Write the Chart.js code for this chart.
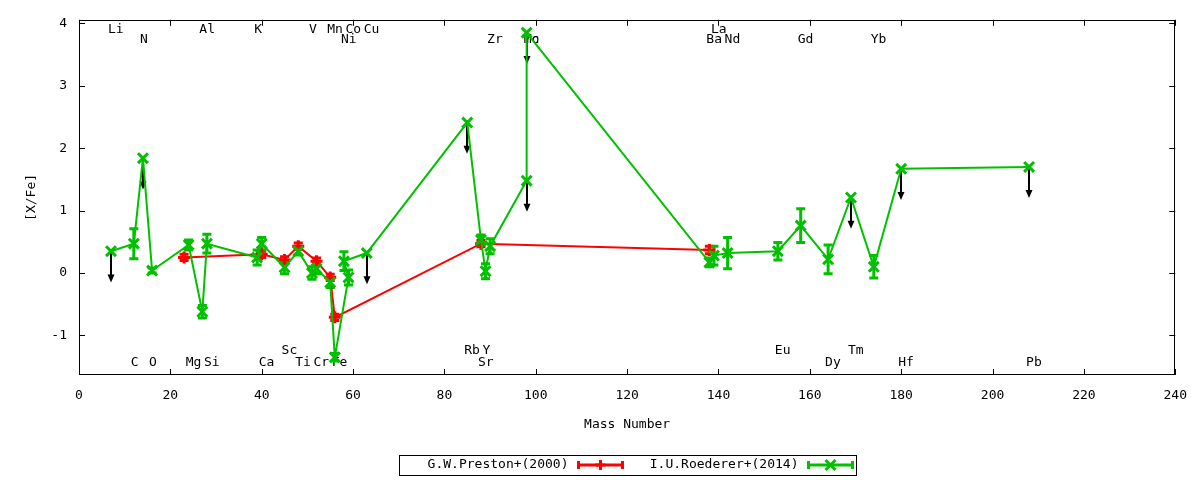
<!DOCTYPE html>
<html>
<head>
<meta charset="utf-8">
<script src="https://cdn.jsdelivr.net/npm/chart.js@4.4.0/dist/chart.umd.min.js"></script>
<style>
  body { margin: 0; background: #fff; }
  #wrap { width: 1200px; height: 480px; }
</style>
</head>
<body>
<div id="wrap"><canvas id="chart"></canvas></div>
<script>
// ---- data ----
var elements     = ["Li","C","N","O","Mg","Al","Si","K","Ca","Sc","Ti","V","Cr","Mn","Fe","Co","Ni","Cu","Rb","Sr","Y","Zr","Mo","Tc","Ba","La","Nd","Eu","Gd","Dy","Tm","Yb","Hf","Pb"];
var massNumbers  = [7,12,14,16,24,27,28,39,40,45,48,51,52,55,56,59,58,63,85,88,89,90,98,98,138,139,142,153,158,164,169,174,180,208];
var labelRow     = [0,3,1,3,3,0,3,0,3,2,3,0,3,0,3,0,1,0,2,3,2,1,1,1,1,0,1,2,1,3,2,1,3,3];
var roedererXFe  = [0.35,0.47,1.84,0.04,0.45,-0.62,0.47,0.25,0.47,0.09,0.35,0.00,0.07,-0.15,-1.35,-0.07,0.19,0.32,2.41,0.53,0.03,0.43,1.48,3.85,0.17,0.28,0.32,0.35,0.76,0.22,1.21,0.10,1.67,1.70];
var roedererErr  = [0,0.24,0,0.04,0.08,0.10,0.15,0.12,0.10,0.10,0.06,0.10,0.08,0.08,0.06,0.12,0.15,0,0,0.08,0.12,0.12,0,0,0.07,0.15,0.25,0.14,0.27,0.23,0,0.18,0,0];
var roedererLim  = [1,0,1,0,0,0,0,0,0,0,0,0,0,0,0,0,0,1,1,0,0,0,1,1,0,0,0,0,0,0,1,0,1,1];

var prestonMass  = [23,40,45,48,52,55,56,88,138];
var prestonXFe   = [0.25,0.30,0.21,0.43,0.19,-0.07,-0.71,0.47,0.37];
var prestonErr   = [0.05,0.05,0.05,0.05,0.05,0.05,0.05,0.05,0.06];

var xTicks = [0,20,40,60,80,100,120,140,160,180,200,220,240];
var yTicks = [-1,0,1,2,3,4];

var seriesNames = ["G.W.Preston+(2000)", "I.U.Roederer+(2014)"];

// ---- look ----
var RED = "#ff0000", GREEN = "#00c000";
var FONT = "13px 'DejaVu Sans Mono'";
var rowY = [3.9, 3.74, -1.24, -1.44];   // label rows, in data units
var LIMIT_LEN = 0.5;                     // upper-limit arrow length, data units

function pts(xs, ys) {
    return xs.map(function (x, i) { return { x: x, y: ys[i] }; });
}

function drawMarker(ctx, style, x, y, color) {
    ctx.save();
    ctx.strokeStyle = color; ctx.lineWidth = 3;
    ctx.beginPath();
    if (style === "cross") {
        ctx.moveTo(x - 5, y); ctx.lineTo(x + 5, y);
        ctx.moveTo(x, y - 5); ctx.lineTo(x, y + 5);
    } else {
        ctx.moveTo(x - 5, y - 5); ctx.lineTo(x + 5, y + 5);
        ctx.moveTo(x + 5, y - 5); ctx.lineTo(x - 5, y + 5);
    }
    ctx.stroke();
    ctx.restore();
}

function errorBar(ctx, x, y1, y2, color) {
    ctx.save();
    ctx.strokeStyle = color; ctx.lineWidth = 3;
    ctx.beginPath();
    ctx.moveTo(x, y1); ctx.lineTo(x, y2);
    ctx.moveTo(x - 4.5, y1); ctx.lineTo(x + 4.5, y1);
    ctx.moveTo(x - 4.5, y2); ctx.lineTo(x + 4.5, y2);
    ctx.stroke();
    ctx.restore();
}

var gnuplotLook = {
    id: "gnuplotLook",
    beforeDatasetsDraw: function (chart) {
        var ctx = chart.ctx, sx = chart.scales.x, sy = chart.scales.y;
        ctx.save();
        // element names
        ctx.font = FONT; ctx.fillStyle = "#000";
        ctx.textAlign = "left"; ctx.textBaseline = "middle";
        elements.forEach(function (el, i) {
            ctx.fillText(el, sx.getPixelForValue(massNumbers[i]) - 3, sy.getPixelForValue(rowY[labelRow[i]]));
        });
        // error bars
        prestonMass.forEach(function (m, i) {
            var x = sx.getPixelForValue(m);
            errorBar(ctx, x, sy.getPixelForValue(prestonXFe[i] - prestonErr[i]), sy.getPixelForValue(prestonXFe[i] + prestonErr[i]), RED);
        });
        massNumbers.forEach(function (m, i) {
            if (roedererLim[i] || !roedererErr[i]) return;
            var x = sx.getPixelForValue(m);
            errorBar(ctx, x, sy.getPixelForValue(roedererXFe[i] - roedererErr[i]), sy.getPixelForValue(roedererXFe[i] + roedererErr[i]), GREEN);
        });
        // upper-limit arrows
        ctx.strokeStyle = "#000"; ctx.fillStyle = "#000"; ctx.lineWidth = 2;
        massNumbers.forEach(function (m, i) {
            if (!roedererLim[i]) return;
            var x = Math.round(sx.getPixelForValue(m));
            var y0 = sy.getPixelForValue(roedererXFe[i]);
            var y1 = sy.getPixelForValue(roedererXFe[i] - LIMIT_LEN);
            ctx.beginPath(); ctx.moveTo(x, y0); ctx.lineTo(x, y1 - 4); ctx.stroke();
            ctx.beginPath();
            ctx.moveTo(x - 3.5, y1 - 8); ctx.lineTo(x + 3.5, y1 - 8); ctx.lineTo(x, y1);
            ctx.closePath(); ctx.fill();
        });
        ctx.restore();
    },
    afterDraw: function (chart) {
        var ctx = chart.ctx, a = chart.chartArea, sx = chart.scales.x, sy = chart.scales.y;
        ctx.save();
        ctx.strokeStyle = "#000"; ctx.lineWidth = 1;
        ctx.strokeRect(Math.round(a.left) + 0.5, Math.round(a.top) + 0.5, Math.round(a.right - a.left) - 1, Math.round(a.bottom - a.top) - 1);
        ctx.beginPath();
        xTicks.forEach(function (v) {
            var x = Math.round(sx.getPixelForValue(v)) + 0.5;
            ctx.moveTo(x, a.bottom); ctx.lineTo(x, a.bottom - 6);
            ctx.moveTo(x, a.top); ctx.lineTo(x, a.top + 6);
        });
        yTicks.forEach(function (v) {
            var y = Math.round(sy.getPixelForValue(v)) + 0.5;
            ctx.moveTo(a.left, y); ctx.lineTo(a.left + 6, y);
            ctx.moveTo(a.right, y); ctx.lineTo(a.right - 6, y);
        });
        ctx.stroke();

        // axis titles
        ctx.font = FONT; ctx.fillStyle = "#000";
        ctx.textAlign = "center"; ctx.textBaseline = "middle";
        var cx = (a.left + a.right) / 2;
        ctx.fillText("Mass Number", cx, 425);
        ctx.save();
        ctx.translate(32, (a.top + a.bottom) / 2);
        ctx.rotate(-Math.PI / 2);
        ctx.fillText("[X/Fe]", 0, 0);
        ctx.restore();

        // legend box
        var bw = 457, bl = Math.round(cx - bw / 2) + 0.5, ly = 465;
        ctx.strokeRect(bl, 455.5, bw, 20);
        var entries = [
            { name: seriesNames[0], color: RED, style: "cross", textRight: bl + 169 },
            { name: seriesNames[1], color: GREEN, style: "crossRot", textRight: bl + 399 }
        ];
        ctx.textAlign = "right";
        entries.forEach(function (e) {
            ctx.fillStyle = "#000";
            ctx.fillText(e.name, e.textRight, ly);
            var x1 = e.textRight + 10, x2 = x1 + 44;
            ctx.save();
            ctx.strokeStyle = e.color; ctx.lineWidth = 3;
            ctx.beginPath();
            ctx.moveTo(x1, ly); ctx.lineTo(x2, ly);
            ctx.moveTo(x1, ly - 4); ctx.lineTo(x1, ly + 4);
            ctx.moveTo(x2, ly - 4); ctx.lineTo(x2, ly + 4);
            ctx.stroke();
            ctx.restore();
            drawMarker(ctx, e.style, (x1 + x2) / 2, ly, e.color);
        });
        ctx.restore();
    }
};

Chart.defaults.color = "#000";
Chart.defaults.font.family = "'DejaVu Sans Mono'";
Chart.defaults.font.size = 13;

new Chart(document.getElementById("chart"), {
    type: "line",
    data: {
        datasets: [{
            label: seriesNames[0],
            data: pts(prestonMass, prestonXFe),
            borderColor: RED, backgroundColor: RED,
            borderWidth: 2, tension: 0,
            pointStyle: "cross", pointRadius: 6, pointBorderWidth: 3,
            order: 1
        }, {
            label: seriesNames[1],
            data: pts(massNumbers, roedererXFe),
            borderColor: GREEN, backgroundColor: GREEN,
            borderWidth: 2, tension: 0,
            pointStyle: "crossRot", pointRadius: 7, pointBorderWidth: 3,
            order: 0
        }]
    },
    options: {
        responsive: true,
        maintainAspectRatio: false,
        animation: false,
        layout: { padding: { top: 17, right: 23, left: 0, bottom: 0 } },
        plugins: { legend: { display: false }, tooltip: { enabled: false } },
        scales: {
            x: {
                type: "linear", min: 0, max: 240,
                grid: { display: false, drawTicks: false },
                border: { display: false },
                ticks: { padding: 13, maxRotation: 0, autoSkip: false },
                afterBuildTicks: function (s) { s.ticks = xTicks.map(function (v) { return { value: v }; }); },
                afterFit: function (s) { s.height = 105; }
            },
            y: {
                type: "linear", min: -1.633, max: 4.056,
                grid: { display: false, drawTicks: false },
                border: { display: false },
                ticks: { padding: 12, autoSkip: false },
                afterBuildTicks: function (s) { s.ticks = yTicks.map(function (v) { return { value: v }; }); },
                afterFit: function (s) { s.width = 79; }
            }
        }
    },
    plugins: [gnuplotLook]
});
</script>
</body>
</html>
